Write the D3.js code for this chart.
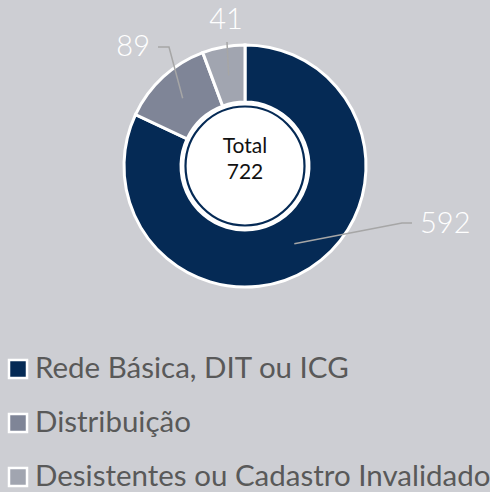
<!DOCTYPE html>
<html>
<head>
<meta charset="utf-8">
<script src="https://cdn.jsdelivr.net/npm/d3@7"></script>
<style>
  html, body { margin: 0; padding: 0; background: #cdced3; }
  svg { display: block; }
</style>
</head>
<body>
<div id="chart"></div>
<script>
// chart data
var categories = ['Rede Básica, DIT ou ICG', 'Distribuição', 'Desistentes ou Cadastro Invalidado'];
var values = [592, 89, 41];
var colors = ['#052a55', '#7f8597', '#a1a5b0'];
var totalLabel = 'Total';

var width = 490,
    height = 492;

var cx = 245, cy = 166,
    outerR = 121, innerR = 64;

var svg = d3.select('#chart')
      .append('svg')
      .attr('width', width)
      .attr('height', height);

var g = svg.append('g')
      .attr('transform', 'translate(' + cx + ',' + cy + ')');

var pie = d3.pie().sort(null).value(d => d);
var arcs = pie(values);

var arc = d3.arc().innerRadius(innerR).outerRadius(outerR);
var leaderArc = d3.arc().innerRadius(92).outerRadius(92);

g.selectAll('path.slice')
  .data(arcs)
  .enter()
  .append('path')
  .attr('class', 'slice')
  .attr('d', arc)
  .attr('fill', (d, i) => colors[i])
  .attr('stroke', '#ffffff')
  .attr('stroke-width', 3)
  .attr('stroke-linejoin', 'miter');

// centre circle
g.append('circle')
  .attr('r', 63)
  .attr('fill', '#ffffff');
g.append('circle')
  .attr('r', 59.5)
  .attr('fill', 'none')
  .attr('stroke', '#052a55')
  .attr('stroke-width', 2.2);

var total = d3.sum(values);
g.append('text')
  .attr('text-anchor', 'middle')
  .attr('y', -13)
  .style('font-family', 'Lato, "Open Sans", sans-serif')
  .style('font-size', '21px')
  .style('fill', '#111111')
  .text(totalLabel);
g.append('text')
  .attr('text-anchor', 'middle')
  .attr('y', 13)
  .style('font-family', 'Lato, "Open Sans", sans-serif')
  .style('font-size', '21px')
  .style('fill', '#111111')
  .text(total);

// data labels with leader lines (offsets relative to centre)
var labelPos = [
  { elbow: [[157, 57], [167, 57]], text: [175, 67], anchor: 'start' },
  { elbow: [[-76, -119], [-87, -119]], text: [-95, -110], anchor: 'end' },
  { elbow: [[-18, -124]], text: [-19, -137], anchor: 'middle' }
];

arcs.forEach((d, i) => {
  var p0 = leaderArc.centroid(d);
  var pts = [p0].concat(labelPos[i].elbow);
  g.append('path')
    .attr('d', d3.line()(pts))
    .attr('fill', 'none')
    .attr('stroke', '#a6a6a6')
    .attr('stroke-width', 1.5);
  g.append('text')
    .attr('x', labelPos[i].text[0])
    .attr('y', labelPos[i].text[1])
    .attr('text-anchor', labelPos[i].anchor)
    .style('font-family', 'Lato, "Open Sans", sans-serif')
    .style('font-weight', 300)
    .style('font-size', '29px')
    .style('fill', '#ffffff')
    .text(values[i]);
});

// legend
var legend = svg.append('g').attr('transform', 'translate(9, 369)');
var rowStep = 54;

var item = legend.selectAll('g.item')
  .data(categories)
  .enter()
  .append('g')
  .attr('class', 'item')
  .attr('transform', (d, i) => 'translate(0,' + i * rowStep + ')');

item.append('rect')
  .attr('x', 0)
  .attr('y', -9)
  .attr('width', 18)
  .attr('height', 18)
  .attr('fill', (d, i) => colors[i])
  .attr('stroke', '#ffffff')
  .attr('stroke-width', 2.5);

item.append('text')
  .attr('x', 26)
  .attr('y', 9)
  .style('font-family', 'Lato, "Open Sans", sans-serif')
  .style('font-size', '29.5px')
  .style('fill', '#595959')
  .text(d => d);
</script>
</body>
</html>
